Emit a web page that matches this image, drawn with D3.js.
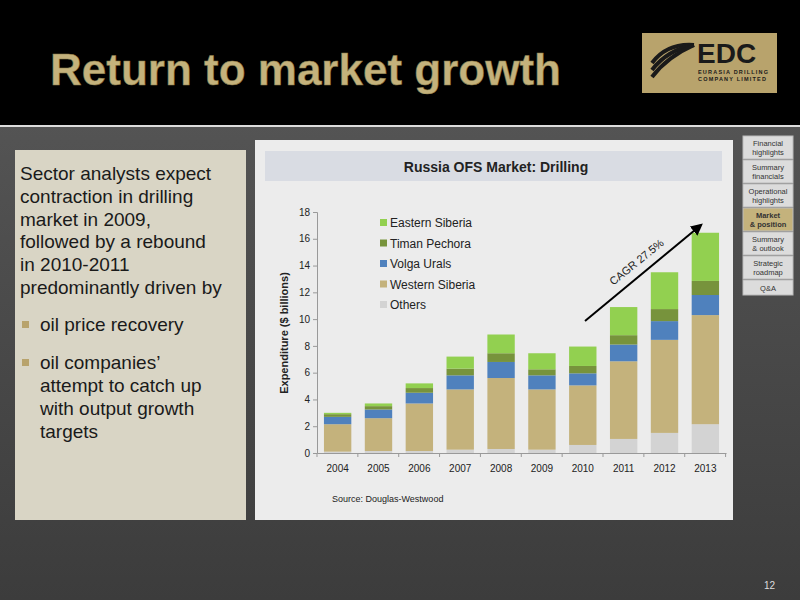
<!DOCTYPE html>
<html><head><meta charset="utf-8">
<script src="https://cdn.jsdelivr.net/npm/d3@7"></script>
<style>body{margin:0;background:#3a3a3a}svg{display:block;font-family:Arial,"Liberation Sans",sans-serif}</style>
</head><body><svg id="c" width="800" height="600"></svg>
<script>
const years = ["2004","2005","2006","2007","2008","2009","2010","2011","2012","2013"];
const others        = [0.1, 0.15, 0.15, 0.25, 0.3, 0.25, 0.6, 1.05, 1.5, 2.15];
const westSiberia   = [2.05, 2.45, 3.55, 4.5, 5.3, 4.5, 4.45, 5.8, 6.95, 8.15];
const volgaUrals    = [0.55, 0.65, 0.8, 1.05, 1.2, 1.05, 0.9, 1.25, 1.4, 1.5];
const timanPechora  = [0.2, 0.25, 0.35, 0.5, 0.65, 0.45, 0.55, 0.7, 0.9, 1.05];
const eastSiberia   = [0.1, 0.2, 0.35, 0.9, 1.4, 1.2, 1.45, 2.1, 2.75, 3.6];
const yTicks = [0,2,4,6,8,10,12,14,16,18];
const seriesNames = ["Others","Western Siberia","Volga Urals","Timan Pechora","Eastern Siberia"];
const colors = ["#d3d3d3","#c4b27c","#4f81bd","#77933c","#92d050"];
const menu = ["Financial|highlights","Summary|financials","Operational|highlights","Market|& position","Summary|& outlook","Strategic|roadmap","Q&A"];
const bullets = ["Sector analysts expect","contraction in drilling","market in 2009,","followed by a rebound","in 2010-2011","predominantly driven by"];

const svg = d3.select("#c");
const bg = svg.append("defs").append("linearGradient").attr("id","bg").attr("x1",0).attr("y1",0).attr("x2",0).attr("y2",1);
bg.append("stop").attr("offset",0).attr("stop-color","#5a5a5a");
bg.append("stop").attr("offset",1).attr("stop-color","#3c3c3c");
svg.append("rect").attr("width",800).attr("height",600).attr("fill","url(#bg)");
svg.append("rect").attr("width",800).attr("height",125).attr("fill","#000");
svg.append("rect").attr("y",125).attr("width",800).attr("height",2).attr("fill","#ddd");
svg.append("text").attr("x",50).attr("y",85).attr("fill","#c4b27c").attr("font-size",44).attr("font-weight","bold")
  .attr("stroke","#8a7a48").attr("stroke-width",0.5).text("Return to market growth");
// logo
const lg = svg.append("g").attr("transform","translate(642,33)");
lg.append("rect").attr("width",135).attr("height",60).attr("fill","#b8a36c");
lg.append("text").attr("x",55).attr("y",30).attr("font-size",28).attr("font-weight","bold").attr("fill","#1a1a1a").text("EDC");
lg.append("text").attr("x",56).attr("y",41).attr("font-size",5.5).attr("font-weight","bold").attr("fill","#1a1a1a").attr("letter-spacing",1.2).text("EURASIA DRILLING");
lg.append("text").attr("x",56).attr("y",48).attr("font-size",5.5).attr("font-weight","bold").attr("fill","#1a1a1a").attr("letter-spacing",1.2).text("COMPANY LIMITED");
[0,7,14].forEach(o=>lg.append("path").attr("d",`M10,${30+o} Q25,${10+o} 52,${12}`).attr("fill","none").attr("stroke","#1a1a1a").attr("stroke-width",4));

// left panel
svg.append("rect").attr("x",15).attr("y",150).attr("width",231).attr("height",370).attr("fill","#d9d5c5");
bullets.forEach((t,i)=>svg.append("text").attr("x",20).attr("y",180+i*22.8).attr("font-size",19).attr("fill","#1a1a1a").text(t));
[["oil price recovery"],["oil companies’","attempt to catch up","with output growth","targets"]].forEach((lines,k)=>{
  const y0 = k===0 ? 331 : 369;
  svg.append("rect").attr("x",22).attr("y",y0-10).attr("width",7).attr("height",7).attr("fill","#b8a36c");
  lines.forEach((t,i)=>svg.append("text").attr("x",40).attr("y",y0+i*23).attr("font-size",19).attr("fill","#1a1a1a").text(t));
});

// chart panel
svg.append("rect").attr("x",255).attr("y",140).attr("width",478).attr("height",380).attr("fill","#ececec");
svg.append("rect").attr("x",265).attr("y",151).attr("width",457).attr("height",30).attr("fill","#d9dce3");
svg.append("text").attr("x",496).attr("y",172).attr("text-anchor","middle").attr("font-size",14).attr("font-weight","bold").attr("fill","#222").text("Russia OFS Market: Drilling");

const x = d3.scaleBand().domain(years).range([317,726]).paddingInner(0.33).paddingOuter(0.17);
const y = d3.scaleLinear().domain([0,18]).range([453,212]);
const data = years.map((yr,i)=>({year:yr,"Others":others[i],"Western Siberia":westSiberia[i],"Volga Urals":volgaUrals[i],"Timan Pechora":timanPechora[i],"Eastern Siberia":eastSiberia[i]}));
const stack = d3.stack().keys(seriesNames)(data);
svg.append("g").selectAll("g").data(stack).join("g").attr("fill",(d,i)=>colors[i])
  .selectAll("rect").data(d=>d).join("rect")
  .attr("x",d=>x(d.data.year)).attr("width",x.bandwidth())
  .attr("y",d=>y(d[1])).attr("height",d=>y(d[0])-y(d[1]));

const ya = svg.append("g").attr("transform","translate(317,0)").call(d3.axisLeft(y).tickValues(yTicks).tickSize(4));
const xa = svg.append("g").attr("transform","translate(0,453)").call(d3.axisBottom(x).tickSize(0).tickPadding(12));
[ya,xa].forEach(a=>{a.selectAll("path,line").attr("stroke","#999");a.selectAll("text").attr("font-size",10).attr("fill","#222").attr("font-family","Arial, sans-serif");});
xa.selectAll(".sep").data(years.concat(["end"])).join("line").attr("class","sep")
  .attr("x1",(d,i)=>317+i*x.step()).attr("x2",(d,i)=>317+i*x.step()).attr("y1",0).attr("y2",4).attr("stroke","#999");
svg.append("text").attr("transform","translate(288,333) rotate(-90)").attr("text-anchor","middle").attr("font-size",11).attr("font-weight","bold").attr("fill","#222").text("Expenditure ($ billions)");

const leg = svg.append("g");
seriesNames.slice().reverse().forEach((n,i)=>{
  const c = colors[seriesNames.length-1-i];
  leg.append("rect").attr("x",380).attr("y",219+i*20.5).attr("width",7).attr("height",7).attr("fill",c);
  leg.append("text").attr("x",390).attr("y",227+i*20.5).attr("font-size",12).attr("fill","#222").text(n);
});

// CAGR arrow
svg.append("defs").append("marker").attr("id","ah").attr("viewBox","0 0 10 10").attr("refX",8).attr("refY",5)
  .attr("markerWidth",6).attr("markerHeight",6).attr("orient","auto").append("path").attr("d","M0,0L10,5L0,10z").attr("fill","#000");
svg.append("line").attr("x1",585).attr("y1",321).attr("x2",701).attr("y2",225).attr("stroke","#000").attr("stroke-width",2).attr("marker-end","url(#ah)");
svg.append("text").attr("transform","translate(639,265) rotate(-39)").attr("text-anchor","middle").attr("font-size",11).attr("fill","#222").text("CAGR 27.5%");

svg.append("text").attr("x",332).attr("y",502).attr("font-size",9).attr("fill","#222").text("Source: Douglas-Westwood");

// side menu
const mg = svg.append("g");
menu.forEach((m,i)=>{
  const hh = i===6 ? 15 : 23, y0 = 136 + i*24;
  mg.append("rect").attr("x",743).attr("y",y0).attr("width",50).attr("height",hh).attr("fill",i===3?"#c4b27c":"#dcdcdc").attr("stroke","#bbb");
  const parts = m.split("|");
  parts.forEach((p,j)=>mg.append("text").attr("x",768).attr("y",y0+(parts.length===1?11:9.5+j*9)).attr("text-anchor","middle")
    .attr("font-size",7.5).attr("font-weight",i===3?"bold":"normal").attr("fill","#333").text(p));
});
svg.append("text").attr("x",775).attr("y",589).attr("text-anchor","end").attr("font-size",10).attr("fill","#ddd").text("12");
</script></body></html>
